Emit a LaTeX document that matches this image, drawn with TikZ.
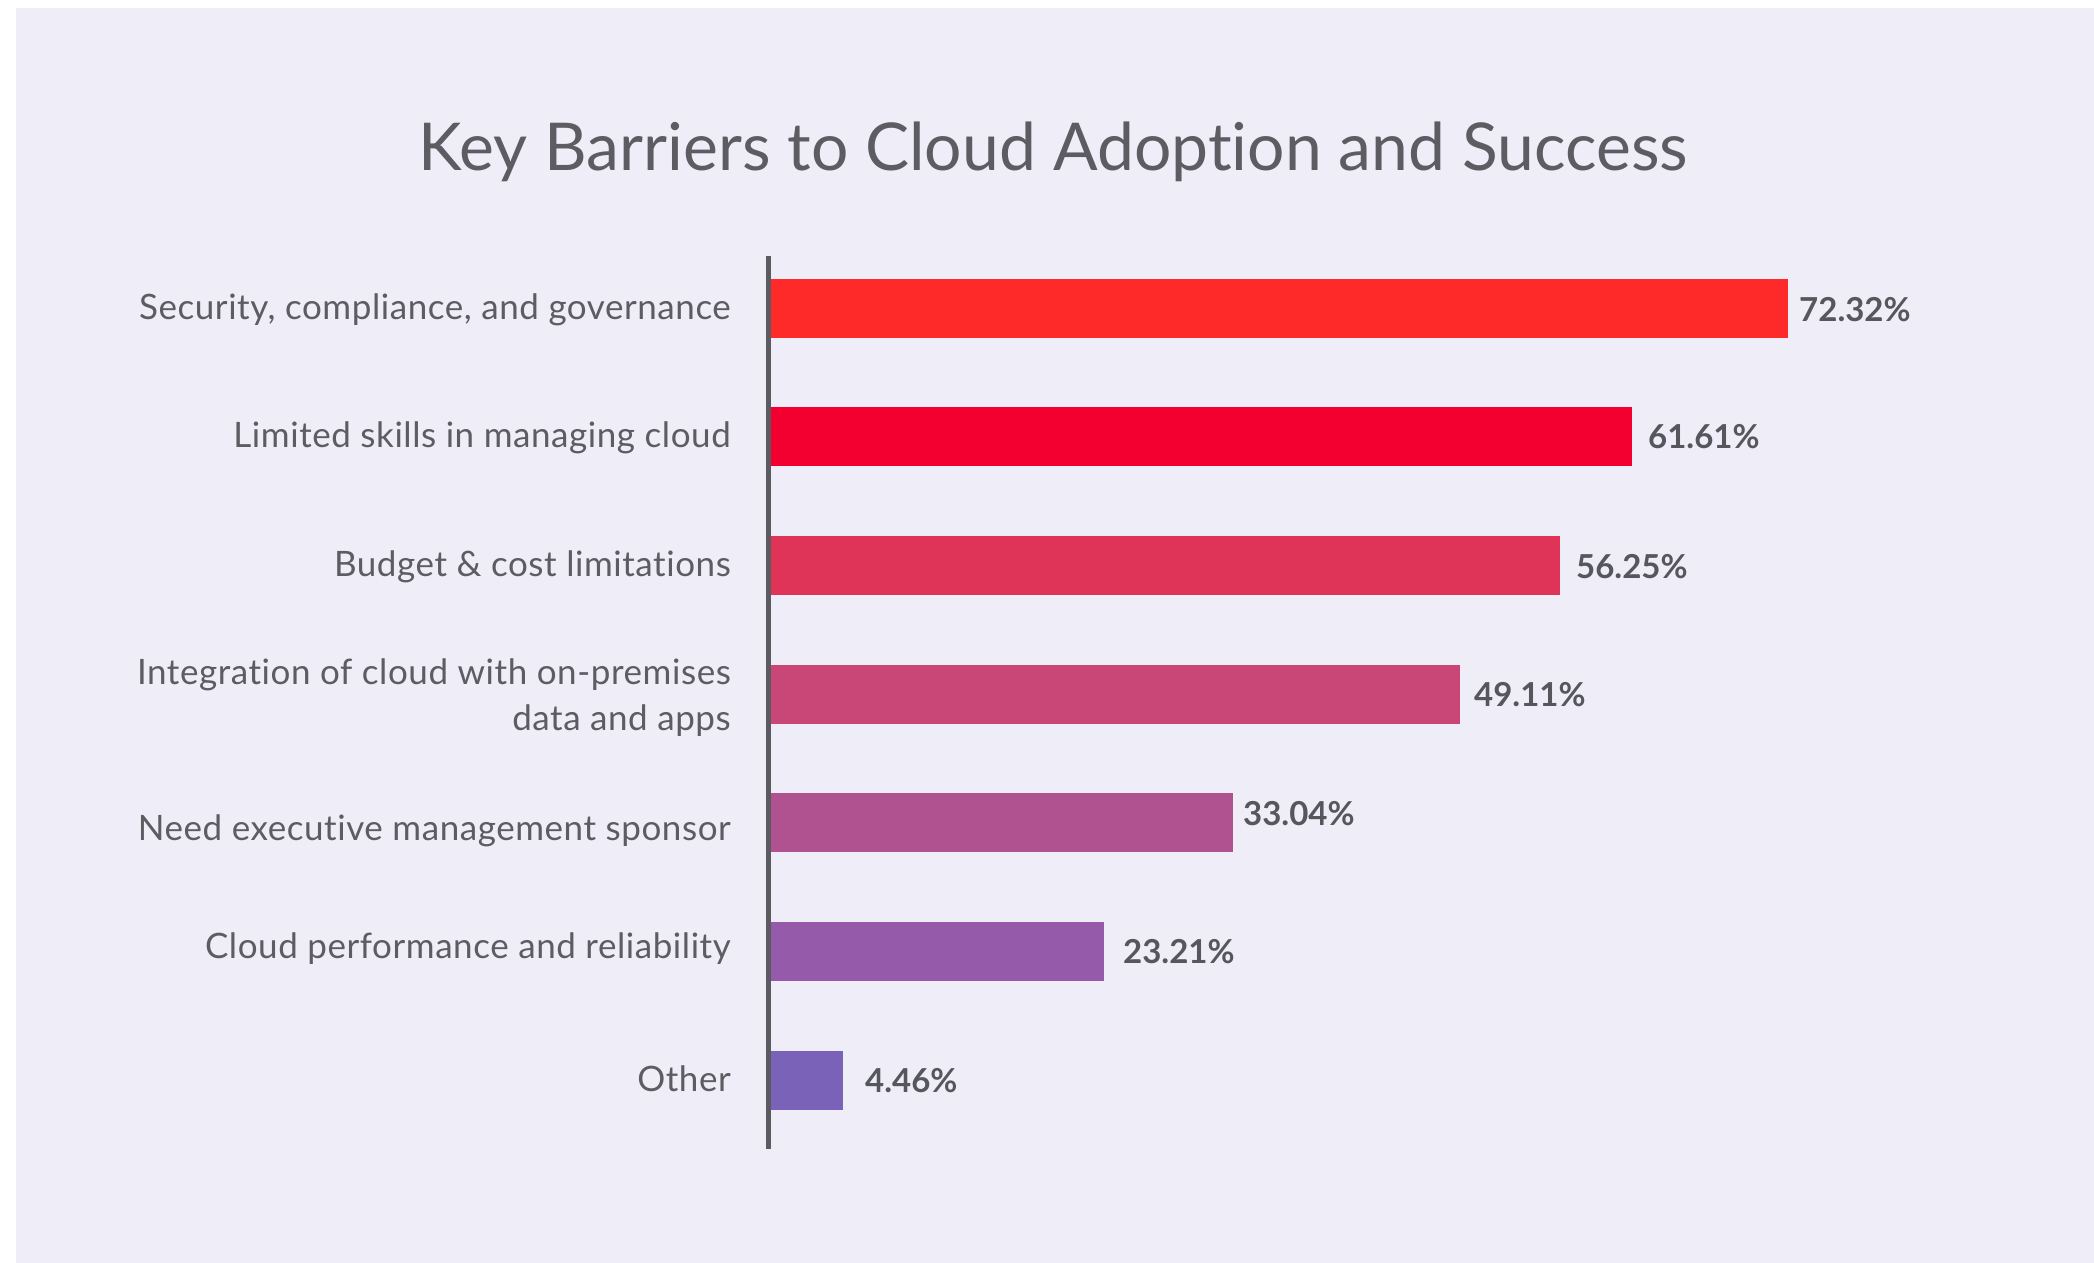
\documentclass[tikz,border=0pt]{standalone}
\usepackage{fontspec}
\setmainfont{Lato}[Ligatures=NoCommon]
\newfontfamily\lblfont{Lato}[Ligatures=NoCommon, LetterSpace=1.6]
\definecolor{bg}{HTML}{EFEDF8}
\definecolor{txt}{HTML}{5C5C62}
\definecolor{valtxt}{HTML}{56575C}
\definecolor{axisc}{HTML}{5A5B60}
\definecolor{c1}{HTML}{FE2A2A}
\definecolor{c2}{HTML}{F40030}
\definecolor{c3}{HTML}{DF3457}
\definecolor{c4}{HTML}{C84776}
\definecolor{c5}{HTML}{B05290}
\definecolor{c6}{HTML}{965AAA}
\definecolor{c7}{HTML}{7A62B8}
\begin{document}
\begin{tikzpicture}[x=1pt,y=-1pt,
  titlestyle/.style={anchor=base, inner sep=0pt, font=\fontsize{66}{70}\selectfont, text=txt},
  lbl/.style={anchor=base east, inner sep=0pt, font=\lblfont\fontsize{35}{40}\selectfont, text=txt},
  val/.style={anchor=base west, inner sep=0pt, font=\bfseries\fontsize{33}{40}\selectfont, text=valtxt},
  barbox/.style={anchor=west, inner sep=0pt, minimum height=59pt, draw=none}]
\useasboundingbox (0,0) rectangle (2094,1263);
\fill[white] (0,0) rectangle (2094,1263);
\fill[bg] (16,8) rectangle (2094,1263);
\node[titlestyle] (title) at (1053,170) {Key Barriers to Cloud Adoption and Success};
% bars
\node[barbox, fill=c1, minimum width=1020pt] (b1) at (768,308.5) {};
\node[barbox, fill=c2, minimum width=864pt] (b2) at (768,436.7) {};
\node[barbox, fill=c3, minimum width=792pt] (b3) at (768,565) {};
\node[barbox, fill=c4, minimum width=692pt] (b4) at (768,694.5) {};
\node[barbox, fill=c5, minimum width=465pt] (b5) at (768,822.7) {};
\node[barbox, fill=c6, minimum width=336pt] (b6) at (768,951) {};
\node[barbox, fill=c7, minimum width=75pt] (b7) at (768,1080.4) {};
% axis
\coordinate (axtop) at (768,256);
\coordinate (axbot) at (768,1149);
\draw[axisc, line width=5pt] (axtop) -- (axbot);
% category labels
\node[lbl] (l1) at (731,319) {Security, compliance, and governance};
\node[lbl] (l2) at (731,447) {Limited skills in managing cloud};
\node[lbl] (l3) at (731,576) {Budget \& cost limitations};
\node[lbl] (l4a) at (731,684) {Integration of cloud with on-premises};
\node[lbl] (l4b) at (731,730) {data and apps};
\node[lbl] (l5) at (731,840) {Need executive management sponsor};
\node[lbl] (l6) at (731,958) {Cloud performance and reliability};
\node[lbl] (l7) at (731,1091) {Other};
% values
\node[val] (v1) at (1799,321) {72.32\%};
\node[val] (v2) at (1648,448) {61.61\%};
\node[val] (v3) at (1576,578) {56.25\%};
\node[val] (v4) at (1474,706) {49.11\%};
\node[val] (v5) at (1243,825) {33.04\%};
\node[val] (v6) at (1123,963) {23.21\%};
\node[val] (v7) at (865,1092) {4.46\%};
\end{tikzpicture}
\end{document}
